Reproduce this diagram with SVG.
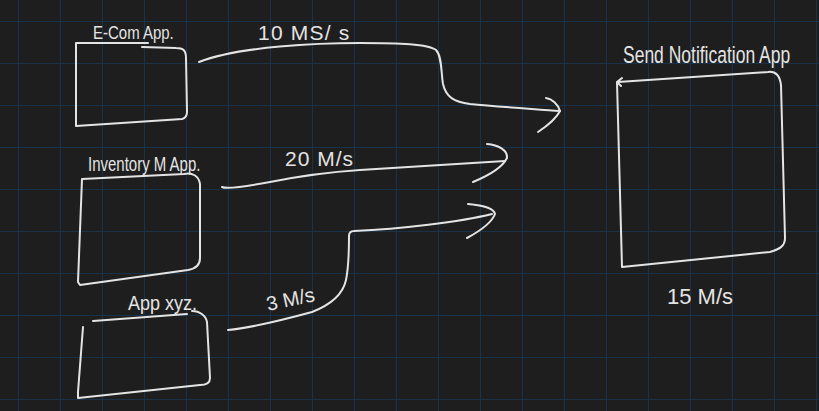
<svg xmlns="http://www.w3.org/2000/svg" width="819" height="411" viewBox="0 0 819 411">
<style>
.ink{fill:none;stroke:#e4e4e4;stroke-width:2;stroke-linecap:round;stroke-linejoin:round}
.lbl{font-family:"Liberation Sans","DejaVu Sans",sans-serif;fill:#e4e4e4;font-weight:normal}
</style>
<defs>
<pattern id="grid" patternUnits="userSpaceOnUse" x="18" y="21" width="42" height="42">
<path d="M0,0 V42 M0,0 H42" fill="none" stroke="#173249" stroke-width="2"/>
</pattern>
</defs>
<rect width="819" height="411" fill="#1e1e1e"/>
<rect width="819" height="411" fill="url(#grid)"/>

<g id="node-ecom">
<path class="ink" d="M148,43 L76,43 L76,126 L182,119 C186,118 187,116 187,112 L186,58 C186,50 183,48 176,48 L142,47"/>
<text class="lbl" font-size="15" transform="translate(93,39) scale(1,1.2)">E-Com App.</text>
</g>

<g id="node-inventory">
<path class="ink" d="M82,179 L184,174 C192,172 199,176 200,184 L200,258 C200,266 194,269 188,270 L80,285 L78,282 L82,179"/>
<text class="lbl" font-size="15" transform="translate(88,171) scale(1,1.3)">Inventory M App.</text>
</g>

<g id="node-appxyz">
<path class="ink" d="M93,321 L187,314 M192,311 C200,311 206,316 207,322 L210,378 C210,383 207,385 200,385 L78,398 L78,392 L83,327"/>
<text class="lbl" font-size="18" transform="translate(128,310) scale(1,1.15)">App xyz.</text>
</g>

<g id="node-notification">
<path class="ink" d="M618,82 L768,72 C776,71 780,76 781,85 L785,238 C785,246 780,249 770,252 L622,267 L617,82 M622,78 L617,82 L621,86"/>
<text class="lbl" font-size="17.5" transform="translate(623,63) scale(1,1.4)">Send Notification App</text>
<text class="lbl" x="667" y="304" font-size="22">15 M/s</text>
</g>

<g id="connectors">
<path class="ink" d="M199,62 C240,46 320,43 360,43 C400,43 428,44 436,50 C442,56 441,72 443,84 C446,97 454,102 470,104 C500,107 535,109 560,111"/>
<path class="ink" d="M546,98 C552,99 558,104 560,111 C556,119 547,126 538,132"/>
<text class="lbl" x="258" y="40" font-size="21" letter-spacing="1.2">10 MS/ s</text>

<path class="ink" d="M222,187 C226,189 238,188 270,182 C300,176 330,172 360,170 C420,166 470,163 505,161"/>
<path class="ink" d="M487,144 C498,145 508,150 507,158 C503,166 490,175 473,182"/>
<text class="lbl" x="285" y="166" font-size="21" letter-spacing="1">20 M/s</text>

<path class="ink" d="M228,330 C250,328 290,318 312,312 C330,305 343,294 346,280 C349,265 349,248 349,236 C349,233 350,231 354,231 C400,229 460,222 492,214"/>
<path class="ink" d="M468,204 C480,205 494,208 495,214 C492,222 480,231 467,238"/>
<text class="lbl" x="268" y="311" font-size="20" transform="rotate(-12 268 311)">3 M/s</text>
</g>
</svg>
